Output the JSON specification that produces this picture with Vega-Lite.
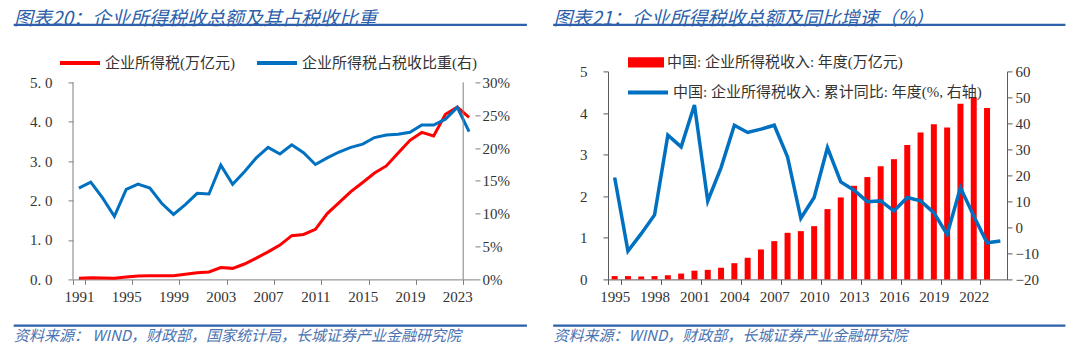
{
  "$schema": "https://vega.github.io/schema/vega-lite/v6.json",
  "padding": {"left": 13, "top": 9, "right": 4, "bottom": 4},
  "background": "white",
  "spacing": 10.4,
  "resolve": {
    "scale": {"stroke": "independent", "fill": "independent", "x": "independent", "y": "independent"},
    "legend": {"stroke": "independent", "fill": "independent"}
  },
  "datasets": {
    "blank": [{"k": 1}],
    "left": [
      {"year": 1991, "tax": 0.03, "share": 13.9},
      {"year": 1992, "tax": 0.04, "share": 14.8},
      {"year": 1993, "tax": 0.035, "share": 12.4},
      {"year": 1994, "tax": 0.03, "share": 9.6},
      {"year": 1995, "tax": 0.06, "share": 13.7},
      {"year": 1996, "tax": 0.085, "share": 14.5},
      {"year": 1997, "tax": 0.09, "share": 13.9},
      {"year": 1998, "tax": 0.09, "share": 11.6},
      {"year": 1999, "tax": 0.09, "share": 9.9},
      {"year": 2000, "tax": 0.13, "share": 11.4},
      {"year": 2001, "tax": 0.17, "share": 13.1},
      {"year": 2002, "tax": 0.19, "share": 13.0},
      {"year": 2003, "tax": 0.30, "share": 17.4},
      {"year": 2004, "tax": 0.28, "share": 14.5},
      {"year": 2005, "tax": 0.39, "share": 16.4},
      {"year": 2006, "tax": 0.54, "share": 18.5},
      {"year": 2007, "tax": 0.70, "share": 20.1},
      {"year": 2008, "tax": 0.87, "share": 19.1},
      {"year": 2009, "tax": 1.11, "share": 20.5},
      {"year": 2010, "tax": 1.14, "share": 19.3},
      {"year": 2011, "tax": 1.27, "share": 17.5},
      {"year": 2012, "tax": 1.67, "share": 18.5},
      {"year": 2013, "tax": 1.95, "share": 19.4},
      {"year": 2014, "tax": 2.23, "share": 20.1},
      {"year": 2015, "tax": 2.46, "share": 20.6},
      {"year": 2016, "tax": 2.70, "share": 21.6},
      {"year": 2017, "tax": 2.88, "share": 22.0},
      {"year": 2018, "tax": 3.21, "share": 22.1},
      {"year": 2019, "tax": 3.53, "share": 22.4},
      {"year": 2020, "tax": 3.73, "share": 23.5},
      {"year": 2021, "tax": 3.64, "share": 23.5},
      {"year": 2022, "tax": 4.19, "share": 24.4},
      {"year": 2023, "tax": 4.37, "share": 26.2},
      {"year": 2024, "tax": 4.11, "share": 22.5}
    ],
    "leftAxisLines": [
      {"year": 1991, "side": "left"},
      {"year": 2024, "side": "right"}
    ],
    "right": [
      {"year": 1995, "tax": 0.08, "growth": 19.2},
      {"year": 1996, "tax": 0.08, "growth": -9.1},
      {"year": 1997, "tax": 0.07, "growth": -2.4},
      {"year": 1998, "tax": 0.08, "growth": 4.8},
      {"year": 1999, "tax": 0.10, "growth": 35.5},
      {"year": 2000, "tax": 0.14, "growth": 31.0},
      {"year": 2001, "tax": 0.21, "growth": 47.1},
      {"year": 2002, "tax": 0.23, "growth": 10.2},
      {"year": 2003, "tax": 0.28, "growth": 23.0},
      {"year": 2004, "tax": 0.39, "growth": 39.3},
      {"year": 2005, "tax": 0.52, "growth": 36.5},
      {"year": 2006, "tax": 0.72, "growth": 37.8},
      {"year": 2007, "tax": 0.92, "growth": 39.3},
      {"year": 2008, "tax": 1.12, "growth": 27.1},
      {"year": 2009, "tax": 1.16, "growth": 3.5},
      {"year": 2010, "tax": 1.28, "growth": 11.5},
      {"year": 2011, "tax": 1.69, "growth": 30.7},
      {"year": 2012, "tax": 1.97, "growth": 17.5},
      {"year": 2013, "tax": 2.25, "growth": 14.3},
      {"year": 2014, "tax": 2.46, "growth": 9.9},
      {"year": 2015, "tax": 2.72, "growth": 10.2},
      {"year": 2016, "tax": 2.89, "growth": 6.3},
      {"year": 2017, "tax": 3.23, "growth": 11.5},
      {"year": 2018, "tax": 3.53, "growth": 10.2},
      {"year": 2019, "tax": 3.73, "growth": 5.7},
      {"year": 2020, "tax": 3.65, "growth": -2.7},
      {"year": 2021, "tax": 4.22, "growth": 15.3},
      {"year": 2022, "tax": 4.38, "growth": 4.4},
      {"year": 2023, "tax": 4.12, "growth": -5.9},
      {"year": 2024, "tax": null, "growth": -5.2}
    ]
  },
  "config": {
    "view": {"stroke": null},
    "axis": {
      "labelFont": "Liberation Serif",
      "labelFontSize": 15,
      "labelColor": "#333333",
      "grid": false,
      "title": null,
      "tickSize": 5,
      "tickWidth": 1,
      "domainWidth": 1
    },
    "legend": {
      "labelFont": "Liberation Serif, Noto Sans CJK SC",
      "labelFontSize": 15,
      "labelColor": "#333333",
      "labelLimit": 500,
      "title": null,
      "padding": 0,
      "labelOffset": 3,
      "columnPadding": 14
    }
  },
  "vconcat": [
    {
      "spacing": 25.5,
      "hconcat": [
        {
          "width": 512,
          "height": 1,
          "data": {"name": "blank"},
          "mark": {"type": "text", "fontSize": 0},
          "encoding": {"text": {"value": ""}},
          "view": {"stroke": "#2D5FAA", "strokeWidth": 1.2},
          "title": {
            "text": "图表20：企业所得税收总额及其占税收比重",
            "anchor": "start",
            "font": "Noto Sans CJK SC",
            "fontSize": 19,
            "fontStyle": "italic",
            "fontWeight": "normal",
            "color": "#2D5FAA",
            "offset": -5
          }
        },
        {
          "width": 511,
          "height": 1,
          "data": {"name": "blank"},
          "mark": {"type": "text", "fontSize": 0},
          "encoding": {"text": {"value": ""}},
          "view": {"stroke": "#2D5FAA", "strokeWidth": 1.2},
          "title": {
            "text": "图表21：企业所得税收总额及同比增速（%）",
            "anchor": "start",
            "font": "Noto Sans CJK SC",
            "fontSize": 19,
            "fontStyle": "italic",
            "fontWeight": "normal",
            "color": "#2D5FAA",
            "offset": -5
          }
        }
      ]
    },
    {
      "spacing": 0,
      "resolve": {
        "scale": {"stroke": "independent", "fill": "independent", "x": "independent", "y": "independent"},
        "legend": {"stroke": "independent", "fill": "independent"}
      },
      "hconcat": [
        {
          "width": 1,
          "height": 1,
          "data": {"name": "blank"},
          "mark": {"type": "text", "fontSize": 0},
          "encoding": {"text": {"value": ""}}
        },
        {
          "width": 402,
          "height": 208,
          "encoding": {
            "x": {
              "field": "year",
              "type": "ordinal",
              "bandPosition": 0.5,
              "scale": {"type": "band", "paddingInner": 0, "paddingOuter": 0},
              "axis": {
                "values": [1991, 1995, 1999, 2003, 2007, 2011, 2015, 2019, 2023],
                "tickBand": "extent",
                "labelAngle": 0,
                "labelPadding": 5,
                "minExtent": 34,
                "domainColor": "#7F7F7F",
                "tickColor": "#7F7F7F"
              }
            }
          },
          "layer": [
            {
              "data": {"name": "left"},
              "mark": {"type": "line", "strokeWidth": 3},
              "encoding": {
                "y": {
                  "field": "tax",
                  "type": "quantitative",
                  "scale": {"domain": [0, 5.279], "nice": false},
                  "axis": {
                    "values": [0, 1, 2, 3, 4, 5],
                    "labelExpr": "replace(format(datum.value, '.1f'), '.', '. ')",
                    "labelPadding": 16,
                    "minExtent": 58,
                    "domain": false,
                    "tickColor": "#7F7F7F"
                  }
                },
                "stroke": {
                  "datum": "企业所得税(万亿元)",
                  "type": "nominal",
                  "scale": {
                    "domain": ["企业所得税(万亿元)", "企业所得税占税收比重(右)"],
                    "range": ["#FF0000", "#0070C0"]
                  },
                  "legend": {
                    "orient": "none",
                    "direction": "horizontal",
                    "legendX": -15,
                    "legendY": -30.3,
                    "symbolType": "stroke",
                    "symbolSize": 1600,
                    "symbolStrokeWidth": 4
                  }
                }
              }
            },
            {
              "data": {"name": "left"},
              "mark": {"type": "line", "strokeWidth": 3},
              "encoding": {
                "y": {
                  "field": "share",
                  "type": "quantitative",
                  "scale": {"domain": [0, 31.675], "nice": false},
                  "axis": {
                    "orient": "right",
                    "values": [0, 5, 10, 15, 20, 25, 30],
                    "labelExpr": "datum.value + '%'",
                    "labelPadding": 2,
                    "minExtent": 78,
                    "domain": false,
                    "tickColor": "#7F7F7F"
                  }
                },
                "stroke": {"datum": "企业所得税占税收比重(右)", "type": "nominal"}
              }
            },
            {
              "data": {"name": "leftAxisLines"},
              "mark": {"type": "rule", "color": "#7F7F7F", "strokeWidth": 1},
              "encoding": {
                "x": {
                  "field": "year",
                  "type": "ordinal",
                  "bandPosition": {"expr": "datum.side === 'left' ? 0 : 1"}
                },
                "y": {"datum": 0, "type": "quantitative", "scale": {"domain": [0, 5.279], "nice": false}, "axis": null},
                "y2": {"datum": 5}
              }
            }
          ],
          "resolve": {"scale": {"y": "independent"}}
        },
        {
          "width": 399,
          "height": 208,
          "data": {"name": "right"},
          "encoding": {
            "x": {
              "field": "year",
              "type": "ordinal",
              "bandPosition": 0.5,
              "scale": {"type": "band", "paddingInner": 0, "paddingOuter": 0},
              "axis": {
                "values": [1995, 1998, 2001, 2004, 2007, 2010, 2013, 2016, 2019, 2022],
                "tickBand": "extent",
                "labelAngle": 0,
                "labelPadding": 5,
                "minExtent": 34,
                "domainColor": "#595959",
                "tickColor": "#595959"
              }
            }
          },
          "layer": [
            {
              "mark": {"type": "bar", "width": {"band": 0.45}},
              "encoding": {
                "y": {
                  "field": "tax",
                  "type": "quantitative",
                  "scale": {"domain": [0, 5]},
                  "axis": {
                    "values": [0, 1, 2, 3, 4, 5],
                    "labelPadding": 16,
                    "minExtent": 55,
                    "domainColor": "#595959",
                    "tickColor": "#595959"
                  }
                },
                "fill": {
                  "datum": "中国: 企业所得税收入: 年度(万亿元)",
                  "type": "nominal",
                  "scale": {"range": ["#FF0000"]},
                  "legend": {
                    "orient": "none",
                    "legendX": 20,
                    "legendY": -27,
                    "symbolType": "M-1,-0.28H1V0.28H-1Z",
                    "symbolSize": 1296,
                    "symbolStrokeWidth": 0
                  }
                }
              }
            },
            {
              "mark": {"type": "line", "strokeWidth": 3.5},
              "encoding": {
                "y": {
                  "field": "growth",
                  "type": "quantitative",
                  "scale": {"domain": [-20, 60]},
                  "axis": {
                    "orient": "right",
                    "values": [-20, -10, 0, 10, 20, 30, 40, 50, 60],
                    "labelPadding": 3,
                    "domainColor": "#595959",
                    "tickColor": "#595959"
                  }
                },
                "stroke": {
                  "datum": "中国: 企业所得税收入: 累计同比: 年度(%, 右轴)",
                  "type": "nominal",
                  "scale": {"range": ["#0070C0"]},
                  "legend": {
                    "orient": "none",
                    "legendX": 18,
                    "legendY": -1,
                    "symbolType": "stroke",
                    "symbolSize": 1600,
                    "symbolStrokeWidth": 4
                  }
                }
              }
            }
          ],
          "resolve": {"scale": {"y": "independent"}}
        }
      ]
    },
    {
      "spacing": 25.5,
      "hconcat": [
        {
          "width": 512,
          "height": 1,
          "data": {"name": "blank"},
          "mark": {"type": "text", "fontSize": 0},
          "encoding": {"text": {"value": ""}},
          "view": {"stroke": "#2D5FAA", "strokeWidth": 1.2},
          "title": {
            "text": "资料来源：  WIND，财政部，国家统计局，长城证券产业金融研究院",
            "orient": "bottom",
            "anchor": "start",
            "font": "Noto Sans CJK SC",
            "fontSize": 15,
            "fontStyle": "italic",
            "fontWeight": "normal",
            "color": "#4A72B0",
            "offset": 3
          }
        },
        {
          "width": 511,
          "height": 1,
          "data": {"name": "blank"},
          "mark": {"type": "text", "fontSize": 0},
          "encoding": {"text": {"value": ""}},
          "view": {"stroke": "#2D5FAA", "strokeWidth": 1.2},
          "title": {
            "text": "资料来源：WIND，财政部，长城证券产业金融研究院",
            "orient": "bottom",
            "anchor": "start",
            "font": "Noto Sans CJK SC",
            "fontSize": 15,
            "fontStyle": "italic",
            "fontWeight": "normal",
            "color": "#4A72B0",
            "offset": 3
          }
        }
      ]
    }
  ]
}
